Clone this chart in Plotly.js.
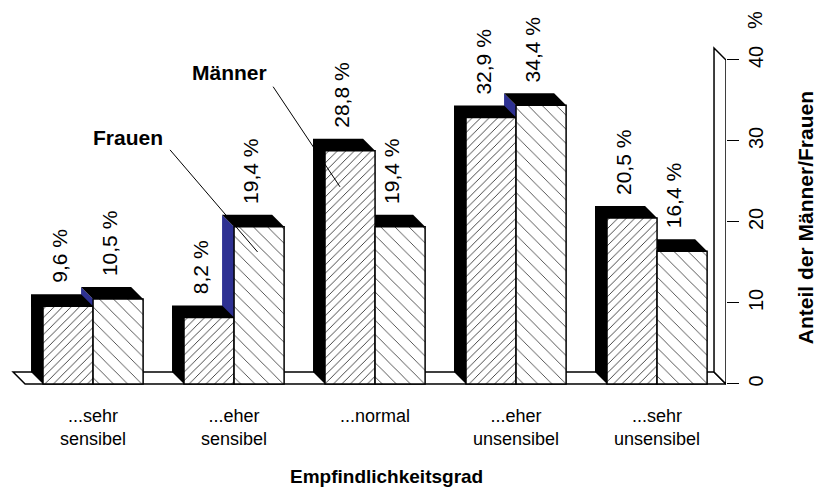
<!DOCTYPE html>
<html><head><meta charset="utf-8">
<script src="https://cdn.plot.ly/plotly-3.0.1.min.js"></script>
<style>html,body{margin:0;padding:0;background:#fff}#chart{width:820px;height:488px}</style>
</head><body><div id="chart"></div>
<script>
const categories = ['...sehr<br>sensibel', '...eher<br>sensibel', '...normal', '...eher<br>unsensibel', '...sehr<br>unsensibel'];
const maenner = [9.6, 8.2, 28.8, 32.9, 20.5];
const frauen = [10.5, 19.4, 19.4, 34.4, 16.4];
const yTicks = [0, 10, 20, 30, 40];
const seriesNames = ['Männer', 'Frauen'];
const xTitle = 'Empfindlichkeitsgrad';
const yTitle = 'Anteil der Männer/Frauen';

const fmt = v => v.toFixed(1).replace('.', ',') + ' %';
const W = 0.355, DX = 0.085, DY = 1.48;
const XMIN = -0.66, XMAX = 4.489, YMIN = -1.73, YMAX = 43.7;
const FLOORX = -0.482;
const FONT = 'Liberation Sans, Arial, sans-serif';
const idx = categories.map((_, i) => i);
const yTop = yTicks[yTicks.length - 1];

function path(pts) {
  return 'M' + pts.map(p => p[0] + ',' + p[1]).join(' L') + ' Z';
}
const shapes = [];
// floor
shapes.push({type: 'path', xref: 'x', yref: 'y', layer: 'below',
  path: path([[FLOORX, 0], [XMAX, 0], [XMAX - DX, DY], [FLOORX - DX, DY]]),
  fillcolor: '#fff', line: {color: '#000', width: 1.5}});
// wall
shapes.push({type: 'path', xref: 'x', yref: 'y', layer: 'below',
  path: path([[XMAX, 0], [XMAX, yTop], [XMAX - DX, yTop + DY], [XMAX - DX, DY]]),
  fillcolor: '#fff', line: {color: '#000', width: 1.5}});
// Frauen side (blue) and top (black)
idx.forEach(i => {
  const xm = i, xr = i + W, f = frauen[i];
  shapes.push({type: 'path', xref: 'x', yref: 'y', layer: 'below',
    path: path([[xm, 0], [xm, f], [xm - DX, f + DY], [xm - DX, DY]]),
    fillcolor: '#2e3192', line: {width: 0}});
  shapes.push({type: 'path', xref: 'x', yref: 'y', layer: 'below',
    path: path([[xm, f], [xr, f], [xr - DX, f + DY], [xm - DX, f + DY]]),
    fillcolor: '#000', line: {width: 0}});
});
// Männer side + top (black)
idx.forEach(i => {
  const xl = i - W, xm = i, m = maenner[i];
  shapes.push({type: 'path', xref: 'x', yref: 'y', layer: 'below',
    path: path([[xl, 0], [xl - DX, DY], [xl - DX, m + DY], [xm - DX, m + DY], [xm, m], [xm, 0]]),
    fillcolor: '#000', line: {width: 0}});
});
// leader lines
shapes.push({type: 'line', xref: 'x', yref: 'y', layer: 'above',
  x0: 1.277, y0: 36.7, x1: 2 - W * 0.70, y1: maenner[2] * 0.845,
  line: {color: '#000', width: 1}});
shapes.push({type: 'line', xref: 'x', yref: 'y', layer: 'above',
  x0: 0.546, y0: 28.9, x1: 1 + W * 0.47, y1: frauen[1] * 0.84,
  line: {color: '#000', width: 1}});

const annotations = [];
const LBL = {family: FONT, size: 21, color: '#000'};
idx.forEach(i => {
  annotations.push({x: i - W / 2 - 0.06, y: maenner[i] + DY, xref: 'x', yref: 'y',
    text: fmt(maenner[i]), showarrow: false, textangle: -90, yanchor: 'bottom', xanchor: 'center', yshift: 9,
    font: LBL});
  annotations.push({x: i + W / 2 - 0.06, y: frauen[i] + DY, xref: 'x', yref: 'y',
    text: fmt(frauen[i]), showarrow: false, textangle: -90, yanchor: 'bottom', xanchor: 'center', yshift: 9,
    font: LBL});
});
annotations.push({x: 0.968, y: 38.4, xref: 'x', yref: 'y', text: '<b>' + seriesNames[0] + '</b>', showarrow: false,
  xanchor: 'center', yanchor: 'middle', font: {family: FONT, size: 21, color: '#000'}});
annotations.push({x: 0.245, y: 30.4, xref: 'x', yref: 'y', text: '<b>' + seriesNames[1] + '</b>', showarrow: false,
  xanchor: 'center', yanchor: 'middle', font: {family: FONT, size: 21, color: '#000'}});
annotations.push({x: 1.040, y: 1.027, xref: 'paper', yref: 'paper', text: '%', showarrow: false, textangle: -90,
  xanchor: 'center', yanchor: 'middle', font: {family: FONT, size: 20, color: '#000'}});
annotations.push({x: 1.109, y: 0.489, xref: 'paper', yref: 'paper', text: '<b>' + yTitle + '</b>', showarrow: false, textangle: -90,
  xanchor: 'center', yanchor: 'middle', font: {family: FONT, size: 21, color: '#000'}});
annotations.push({x: 0.532, y: -0.212, xref: 'paper', yref: 'paper', text: '<b>' + xTitle + '</b>', showarrow: false,
  xanchor: 'center', yanchor: 'middle', font: {family: FONT, size: 19, color: '#000'}});

const traces = [
  {type: 'bar', name: seriesNames[0], x: idx, y: maenner, offset: -W, width: W,
    marker: {color: '#fff', line: {color: '#000', width: 1.5},
      pattern: {shape: '/', size: 6, solidity: 0.15, fgcolor: '#333', bgcolor: '#fff'}}, hoverinfo: 'skip'},
  {type: 'bar', name: seriesNames[1], x: idx, y: frauen, offset: 0, width: W,
    marker: {color: '#fff', line: {color: '#000', width: 1.5},
      pattern: {shape: '\\', size: 10, solidity: 0.09, fgcolor: '#444', bgcolor: '#fff'}}, hoverinfo: 'skip'}
];

const layout = {
  width: 820, height: 488,
  margin: {l: 0, r: 94, t: 30, b: 90},
  paper_bgcolor: '#fff', plot_bgcolor: 'rgba(0,0,0,0)',
  showlegend: false, barmode: 'overlay',
  font: {family: FONT, color: '#000'},
  xaxis: {range: [XMIN, XMAX], tickvals: idx, ticktext: categories, ticks: '', showgrid: false,
    zeroline: false, showline: false, tickfont: {size: 18, color: '#000'}, ticklabelstandoff: 5},
  yaxis: {range: [YMIN, YMAX], side: 'right', tickvals: yTicks, ticktext: yTicks.map(String), ticks: 'outside',
    ticklen: 12, tickwidth: 1, tickcolor: '#000', tickangle: -90, showgrid: false, zeroline: false, showline: false,
    tickfont: {size: 20, color: '#000'}},
  shapes: shapes, annotations: annotations
};
Plotly.newPlot('chart', traces, layout, {staticPlot: true});
</script></body></html>
